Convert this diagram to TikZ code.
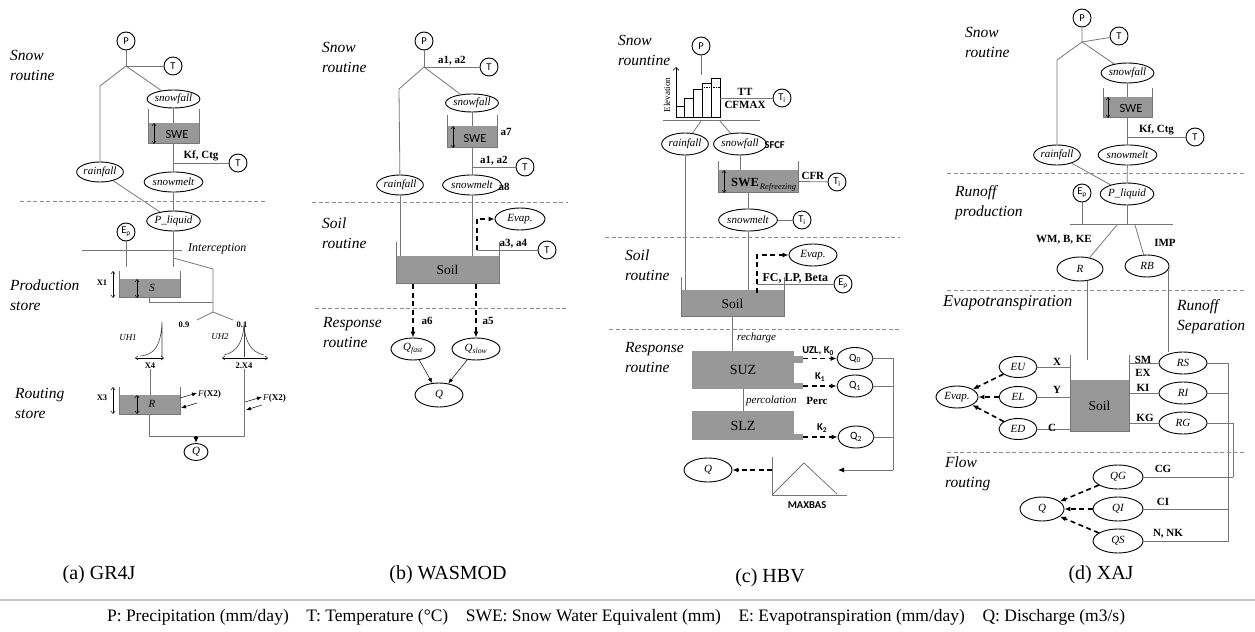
\documentclass[tikz,border=0pt]{standalone}
\usepackage{fontspec}
\setmainfont{Liberation Serif}
\setsansfont{Carlito}
\usetikzlibrary{shapes.geometric,arrows.meta}
\definecolor{tankgray}{RGB}{152,152,152}
\definecolor{linegray}{RGB}{118,118,118}
\begin{document}
\begin{tikzpicture}[x=1bp, y=-1bp,
  ln/.style={draw=linegray, line width=0.8bp},
  wall/.style={draw=linegray, line width=1bp},
  store/.style={fill=tankgray, inner sep=0pt, font=\fontsize{13.5bp}{13bp}\selectfont},
  var/.style={ellipse, draw, line width=0.9bp, inner sep=0pt, minimum width=46bp, minimum height=20bp, font=\itshape\fontsize{11bp}{11bp}\selectfont},
  inp/.style={circle, draw, line width=0.9bp, inner sep=0pt, minimum size=18bp, font=\sffamily\fontsize{10.5bp}{10bp}\selectfont},
  zone/.style={anchor=west, align=left, inner sep=0pt, font=\itshape\fontsize{15.5bp}{20bp}\selectfont},
  prm/.style={inner sep=1.5bp, font=\bfseries\fontsize{11bp}{11bp}\selectfont},
  minor/.style={inner sep=0pt, font=\bfseries\fontsize{8.5bp}{9bp}\selectfont},
  sprm/.style={inner sep=1.5bp, font=\sffamily\bfseries\fontsize{10.5bp}{11bp}\selectfont},
  note/.style={inner sep=0pt, font=\itshape\fontsize{11bp}{12bp}\selectfont},
  swetxt/.style={inner sep=0pt, font=\sffamily\fontsize{12.5bp}{12bp}\selectfont},
  sep/.style={draw=black!45, dash pattern=on 4bp off 2.5bp, line width=0.7bp},
  dbl/.style={line width=0.5bp, {Straight Barb[length=2.5bp,width=4bp]}-{Straight Barb[length=2.5bp,width=4bp]}},
  flux/.style={line width=1.6bp, dash pattern=on 5bp off 3.5bp, -{Latex[length=6bp,width=5bp]}},
  thinarr/.style={line width=0.5bp, -{Latex[length=5bp,width=4bp]}},
  arr/.style={-{Latex[length=6bp,width=5bp,color=black]}},
  panel/.style={inner sep=0pt, font=\fontsize{20bp}{20bp}\selectfont},
  keytext/.style={inner sep=0pt, font=\fontsize{17.5bp}{17.5bp}\selectfont}]
\useasboundingbox (0,0) rectangle (1255,632);

% (a) GR4J
\node[zone] (zA1) at (10,65) {Snow\\routine};
\node[zone] (zA2) at (10,295) {Production\\store};
\node[zone] (zA3) at (15,403) {Routing\\store};
\node[inp] (pA) at (126,41) {P};
\node[inp] (tA) at (173,66) {T};
\coordinate (jA) at (126,66);
\coordinate (bA) at (100,86);
\node[var] (rainA) at (100,172) {rainfall};
\node[var, minimum width=44bp, minimum height=18bp] (sfA) at (173.5,99) {snowfall};
\node[store, minimum width=51bp, minimum height=21bp] (sweA) at (173.5,133.5) {};
\node[swetxt] (sweAt) at (177,134) {SWE};
\node[var, minimum width=44bp] (smA) at (173.5,182) {snowmelt};
\node[inp] (tA2) at (238,163) {T};
\node[var] (plA) at (173.5,221) {P\_liquid};
\node[inp] (epA) at (126,232) {E\textsubscript{p}};
\draw[ln] (pA) -- (jA) -- (tA);
\draw[ln] (jA) -- (bA) -- (rainA);
\draw[ln] (jA) -- (sfA);
\draw[wall] (148,109) |- (199,144) -- (199,109);
\draw[ln] (sfA) -- (sweA);
\draw[dbl] (154,123) -- (154,144);
\draw[ln] (sweA) -- (smA);
\draw[ln] (sweA.south |- tA2) -- node[prm, above]{Kf, Ctg} (tA2);
\draw[ln] (rainA) -- (plA);
\draw[ln] (smA) -- (plA);
\draw[sep] (20,201) -- (265,201);

\coordinate (icA1) at (82,250);
\coordinate (icA2) at (182,250);
\draw[ln] (icA1) -- (icA2);
\node[note, anchor=west, font=\itshape\fontsize{12bp}{12bp}\selectfont] (icA) at (188,249) {Interception};
\coordinate (epAe) at (126,267);
\coordinate (plAe) at (173.5,267);
\draw[ln] (epA) -- (epAe);
\draw[ln] (plA) -- (plAe);
\node[store, minimum width=61bp, minimum height=19bp] (sA) at (149.5,288.5) {};
\node[note] (sAt) at (152,288) {S};
\draw[wall] (119,271) |- (180,298) -- (180,271);
\draw[dbl] (137,279) -- (137,298);
\draw[dbl] (113,271) -- (113,298);
\node[minor] (x1A) at (102,283) {X1};
\coordinate (brA) at (173.5,258);
\coordinate (kA) at (213,269);
\coordinate (jA2) at (213,312);
\draw[ln] (brA) -- (kA) -- (jA2);
\draw[ln] (sA.south) |- (kA |- 0,302);
\coordinate (uhA1) at (197,320);
\coordinate (uhA2) at (233,320);
\draw[ln] (uhA1) -- (jA2) -- (uhA2);
\node[minor] (f09) at (184,325) {0.9};
\node[minor] (f01) at (242,325) {0.1};

\draw[draw=black!75, line width=0.6bp] (140,356) .. controls (155,355) and (161,345) .. (162,322) -- (162,357);
\draw[dbl] (135,358) -- (164,358);
\node[note, font=\itshape\fontsize{9bp}{9bp}\selectfont] (uhA) at (128,338) {UH1};
\node[minor] (x4A) at (150,366) {X4};
\draw[draw=black!75, line width=0.6bp] (224,355) .. controls (238,352) and (243,340) .. (244,325) .. controls (245,340) and (250,352) .. (264,355);
\draw[draw=black!75, line width=0.6bp] (244,325) -- (244,357);
\draw[dbl] (222,358) -- (268,358);
\node[note, font=\itshape\fontsize{9bp}{9bp}\selectfont] (uhB) at (220,337) {UH2};
\node[minor] (x4B) at (244,366) {2.X4};

\node[store, minimum width=61bp, minimum height=19bp] (rA) at (149.5,404.5) {};
\node[note] (rAt) at (152,404) {R};
\draw[wall] (119,387) |- (180,414) -- (180,387);
\draw[dbl] (137,395) -- (137,414);
\draw[dbl] (113,387) -- (113,414);
\node[minor] (x3A) at (102,398) {X3};
\draw[ln] (x4A) -- (x4A |- rA.north);
\draw[thinarr] (180,398) -- (197,393);
\draw[thinarr] (197,403) -- (181,408);
\node[anchor=west, inner sep=0pt, font=\fontsize{9bp}{9bp}\selectfont] (fxA) at (198,394) {\textit{F}\textbf{(X2)}};
\draw[thinarr] (245,402) -- (262,397);
\draw[thinarr] (262,405) -- (246,410);
\node[anchor=west, inner sep=0pt, font=\fontsize{9bp}{9bp}\selectfont] (fxB) at (263,398) {\textit{F}\textbf{(X2)}};
\coordinate (oA1) at (149.5,436);
\coordinate (oA2) at (244,436);
\coordinate (oA) at (196,436);
\node[var, minimum width=24bp, minimum height=17bp] (qA) at (196,452) {Q};
\draw[ln] (rA.south) -- (oA1) -- (oA2) -- (x4B);
\draw[-{Latex[length=6bp,width=5bp]}, line width=1.5bp] (oA) -- (qA);
\node[panel] (capA) at (99,575) {(a) GR4J};

% (b) WASMOD
\node[zone] (zB1) at (322,57) {Snow\\routine};
\node[zone] (zB2) at (322,233) {Soil\\routine};
\node[zone] (zB3) at (323,333) {Response\\routine};
\node[inp] (pB) at (424,41) {P};
\node[inp] (tB) at (489,67) {T};
\coordinate (jB) at (424,67);
\coordinate (bB) at (399,89);
\node[var, minimum width=44bp] (rainB) at (400,185) {rainfall};
\node[var, minimum width=44bp, minimum height=18bp] (sfB) at (472,103) {snowfall};
\node[store, minimum width=50bp, minimum height=22bp] (sweB) at (472,137) {};
\node[swetxt] (sweBt) at (475,138) {SWE};
\node[prm, anchor=west] (a7B) at (499,132) {a7};
\node[var, minimum width=48bp] (smB) at (472,185) {snowmelt};
\node[prm, anchor=west] (a8B) at (497,187) {a8};
\node[inp] (tB2) at (525,167) {T};
\draw[ln] (pB) -- (jB) -- node[prm, above]{a1, a2} (tB);
\draw[ln] (jB) -- (bB) -- (rainB);
\draw[ln] (jB) -- (sfB);
\draw[wall] (447,115) |- (497,148) -- (497,115);
\draw[ln] (sfB) -- (sweB);
\draw[dbl] (453,126) -- (453,148);
\draw[ln] (sweB) -- (smB);
\draw[ln] (sweB.south |- tB2) -- node[prm, above]{a1, a2} (tB2);
\draw[sep] (312,202) -- (568,202);
\node[store, minimum width=103bp, minimum height=28bp] (soilB) at (447.5,270) {Soil};
\draw[wall] (396,242) |- (499,284) -- (499,242);
\draw[ln] (rainB) -- (rainB |- soilB.north);
\draw[ln] (smB) -- (smB |- soilB.north);
\node[var, minimum width=50bp, minimum height=22bp] (evB) at (520,219) {Evap.};
\coordinate (eB) at (477,250);
\node[inp] (tB3) at (547,250) {T};
\draw[flux] (eB) |- (evB);
\draw[ln] (eB) -- node[prm, above, pos=0.6]{a3, a4} (tB3);
\draw[sep] (315,308) -- (567,308);
\node[var, minimum width=44bp, minimum height=22bp] (qfB) at (413,349) {Q\textsubscript{fast}};
\node[var, minimum width=48bp, minimum height=22bp] (qsB) at (476,349) {Q\textsubscript{slow}};
\draw[flux] (soilB.south -| qfB) -- (qfB);
\draw[flux] (soilB.south -| qsB) -- (qsB);
\node[prm] (a6B) at (427,321) {a6};
\node[prm] (a5B) at (488,321) {a5};
\node[var, minimum width=48bp, minimum height=24bp] (qB) at (439,395) {Q};
\draw[thinarr] (qfB) -- (qB);
\draw[thinarr] (qsB) -- (qB);
\node[panel] (capB) at (448,575) {(b) WASMOD};

% (c) HBV
\node[zone] (zC1) at (618,50) {Snow\\rountine};
\node[zone] (zC2) at (625,265) {Soil\\routine};
\node[zone] (zC3) at (625,358) {Response\\routine};
\node[inp] (pC) at (701,46) {P};
\coordinate (pCe) at (701,75);
\draw[ln] (pC) -- (pCe);
\draw[-{Straight Barb[length=3bp]}, line width=0.6bp] (676,117) -- (676,67);
\foreach \i/\h in {0/106,1/98,2/89,3/83,4/78}
  \draw[line width=0.9bp] ({676+8.8*\i},117) rectangle ({684.8+8.8*\i},\h);
\draw[densely dotted, line width=0.7bp] (702.4,87) -- (720,87);
\node[rotate=90, inner sep=0pt, font=\fontsize{9bp}{9bp}\selectfont] (elev) at (667,95) {Elevation};
\draw[ln] (663,120) -- (760,120);
\node[inp] (tiC1) at (782,98) {T\textsubscript{i}};
\coordinate (ttC) at (720,98);
\draw[ln] (ttC) -- (tiC1);
\node[prm] (ttl) at (745,92) {TT};
\node[prm] (cfm) at (745,105) {CFMAX};
\coordinate (blC1) at (701,121);
\coordinate (blC2) at (720,121);
\node[var, minimum height=22bp] (rainC) at (685,144) {rainfall};
\node[var, minimum width=48bp, minimum height=22bp] (sfC) at (740,144) {snowfall};
\node[sprm, anchor=west] (sfcf) at (763,145) {SFCF};
\draw[ln] (blC1) -- (rainC);
\draw[ln] (blC2) -- (sfC);
\node[store, minimum width=80bp, minimum height=23bp] (sweC) at (758,181.5) {};
\draw[wall] (718,161) |- (798,193) -- (798,161);
\draw[ln] (sfC) -- (sfC |- sweC.north);
\draw[dbl] (724,170) -- (724,193);
\node[inner sep=0pt, font=\bfseries\fontsize{12.5bp}{12bp}\selectfont] (sweCt) at (745,182) {SWE};
\node[inner sep=0pt, font=\itshape\fontsize{8.5bp}{9bp}\selectfont] (refr) at (778,187) {Refreezing};
\node[inp] (tiC2) at (837,182) {T\textsubscript{i}};
\draw[ln] (sweC.east) -- node[prm, above]{CFR} (tiC2);
\node[var, minimum height=22bp] (smC) at (748,220) {snowmelt};
\node[inp] (tiC3) at (802,220) {T\textsubscript{i}};
\draw[ln] (sweC.south -| smC) -- (smC);
\draw[ln] (smC) -- (tiC3);
\draw[sep] (605,237) -- (900,237);
\node[store, minimum width=103bp, minimum height=27bp] (soilC) at (732.5,303.5) {Soil};
\draw[wall] (681,277) |- (784,317) -- (784,277);
\draw[ln] (rainC) -- (rainC |- soilC.north);
\draw[ln] (smC) -- (smC |- soilC.north);
\node[var, minimum width=48bp, minimum height=22bp] (evC) at (813,255) {Evap.};
\node[inp] (epC) at (843,284) {E\textsubscript{p}};
\coordinate (eC) at (757,293);
\coordinate (eC2) at (757,284);
\draw[flux] (eC) |- (evC);
\draw[ln] (eC2) -- node[prm, above, inner sep=0.5bp, font=\bfseries\fontsize{12bp}{12bp}\selectfont]{FC, LP, Beta} (epC);
\draw[sep] (609,329) -- (900,329);
\node[store, minimum width=102bp, minimum height=38bp, font=\fontsize{14bp}{14bp}\selectfont] (suzC) at (743,370) {SUZ};
\fill[tankgray] (794,356) rectangle (803,363);
\fill[tankgray] (794,383) rectangle (803,389);
\draw[ln] (soilC.south) -- (soilC.south |- suzC.north);
\node[note, anchor=west] (rech) at (737,338) {recharge};
\node[store, minimum width=102bp, minimum height=29bp, font=\fontsize{14bp}{14bp}\selectfont] (slzC) at (743,425.5) {SLZ};
\fill[tankgray] (794,434) rectangle (803,440);
\draw[ln] (suzC) -- (slzC);
\node[note, anchor=west] (perc) at (746,401) {percolation};
\node[prm] (percp) at (817,401) {Perc};
\node[var, minimum width=36bp, minimum height=22bp, font=\sffamily\fontsize{11bp}{11bp}\selectfont] (q0C) at (855,358.5) {Q\textsubscript{0}};
\node[var, minimum width=36bp, minimum height=22bp, font=\sffamily\fontsize{11bp}{11bp}\selectfont] (q1C) at (855,386) {Q\textsubscript{1}};
\node[var, minimum width=36bp, minimum height=22bp, font=\sffamily\fontsize{11bp}{11bp}\selectfont] (q2C) at (856,437) {Q\textsubscript{2}};
\coordinate (o0C) at (803,358.5);
\coordinate (o1C) at (803,386);
\coordinate (o2C) at (803,437);
\draw[flux] (o0C) -- (q0C);
\draw[flux] (o1C) -- (q1C);
\draw[flux] (o2C) -- (q2C);
\node[sprm] (uzl) at (818,351) {UZL, K\textsubscript{0}};
\node[sprm] (k1C) at (820,377) {K\textsubscript{1}};
\node[sprm] (k2C) at (822,428) {K\textsubscript{2}};
\coordinate (colC) at (893,470);
\coordinate (mxC) at (838,470);
\draw[ln] (q0C) -| (colC);
\draw[ln] (q1C) -- (q1C -| colC);
\draw[ln] (q2C) -- (q2C -| colC);
\draw[ln, arr] (colC) -- (mxC);
\coordinate (mxL) at (772,470);
\draw[ln] (772,457) -- (772,495) -- (847,495);
\draw[ln] (773,494) -- (804,463) -- (837,494);
\node[sprm] (mxb) at (807,505) {MAXBAS};
\node[var, minimum width=48bp, minimum height=24bp] (qC) at (708,470) {Q};
\draw[flux] (mxL) -- (qC);
\node[panel] (capC) at (770,578) {(c) HBV};

% (d) XAJ
\node[zone] (zD1) at (965,42) {Snow\\routine};
\node[zone] (zD2) at (955,203) {Runoff\\production};
\node[zone, font=\itshape\fontsize{16.5bp}{20bp}\selectfont] (zD3) at (943,303) {Evapotranspiration};
\node[zone] (zD4) at (1177,317) {Runoff\\Separation};
\node[zone] (zD5) at (945,474) {Flow\\routing};
\node[inp] (pD) at (1082,18) {P};
\node[inp] (tD) at (1119,36) {T};
\coordinate (jD) at (1082,42);
\coordinate (bD) at (1057,60);
\node[var] (rainD) at (1057,155) {rainfall};
\node[var, minimum width=44bp] (sfD) at (1127.5,73) {snowfall};
\node[store, minimum width=49bp, minimum height=21bp] (sweD) at (1127.5,107.5) {};
\node[swetxt] (sweDt) at (1131,108) {SWE};
\draw[wall] (1103,88) |- (1152,118) -- (1152,88);
\draw[dbl] (1108,97) -- (1108,118);
\node[var] (smD) at (1127.5,155) {snowmelt};
\node[inp] (tD2) at (1195,137) {T};
\draw[ln] (pD) -- (jD) -- (tD);
\draw[ln] (jD) -- (bD) -- (rainD);
\draw[ln] (jD) -- (sfD);
\draw[ln] (sfD) -- (sweD);
\draw[ln] (sweD) -- (smD);
\draw[ln] (sweD.south |- tD2) -- node[prm, above]{Kf, Ctg} (tD2);
\draw[sep] (947,173) -- (1245,173);
\node[var, minimum width=48bp, minimum height=22bp] (plD) at (1127,194) {P\_liquid};
\node[inp] (epD) at (1082,193) {E\textsubscript{p}};
\draw[ln] (rainD) -- (plD);
\draw[ln] (smD) -- (plD);
\coordinate (hD1) at (1070,224);
\coordinate (hD2) at (1173,224);
\draw[ln] (hD1) -- (hD2);
\draw[ln] (epD) -- (epD |- hD1);
\draw[ln] (plD) -- (plD |- hD1);
\coordinate (sD1) at (1117,225);
\coordinate (sD2) at (1135,225);
\node[var, minimum height=24bp] (rD) at (1080,269) {R};
\node[var, minimum width=44bp, minimum height=22bp] (rbD) at (1147,266) {RB};
\draw[ln] (sD1) -- (rD);
\draw[ln] (sD2) -- (rbD);
\node[prm] (wmD) at (1064,240) {WM, B, KE};
\node[prm] (impD) at (1165,243) {IMP};
\draw[sep] (947,290) -- (1245,290);
\node[store, minimum width=59bp, minimum height=51bp] (soilD) at (1099.5,405.5) {Soil};
\draw[wall] (1070,355) |- (1129,431) -- (1129,355);
\draw[ln] ([xshift=7bp]rD.south) -- ++(0,79);
\node[var, minimum width=48bp, minimum height=22bp] (rsD) at (1183,363) {RS};
\node[var, minimum width=48bp, minimum height=22bp] (riD) at (1183,393) {RI};
\node[var, minimum width=48bp, minimum height=22bp] (rgD) at (1183,423) {RG};
\draw[ln] (rbD.-10) -- (rbD.-10 |- rsD.north);
\draw[ln] (rsD.west -| soilD.east) -- (rsD);
\draw[ln] (riD.west -| soilD.east) -- (riD);
\draw[ln] (rgD.west -| soilD.east) -- (rgD);
\node[prm] (smL) at (1143,360) {SM};
\node[prm] (exL) at (1143,373) {EX};
\node[prm] (kiL) at (1143,388) {KI};
\node[prm] (kgL) at (1145,418) {KG};
\node[var, minimum width=38bp, minimum height=21bp] (euD) at (1018,367) {EU};
\node[var, minimum width=38bp, minimum height=21bp] (elD) at (1018,397) {EL};
\node[var, minimum width=38bp, minimum height=21bp] (edD) at (1018,429) {ED};
\node[var, minimum width=42bp, minimum height=22bp] (evD) at (957,397) {Evap.};
\draw[ln] (euD) -- (euD -| soilD.west);
\draw[ln] (elD) -- (elD -| soilD.west);
\draw[ln] (edD) -- (edD -| soilD.west);
\node[prm] (xL) at (1057,362) {X};
\node[prm] (yL) at (1057,390) {Y};
\node[prm] (cL) at (1052,428) {C};
\draw[flux] (euD) -- (evD);
\draw[flux] (elD) -- (evD);
\draw[flux] (edD) -- (evD);
\coordinate (cD1) at (1228,363);
\coordinate (cD2) at (1228,542);
\coordinate (cD3) at (1233,477);
\draw[ln] (rsD) -- (cD1) -- (cD2);
\draw[ln] (riD) -- (riD -| cD1);
\draw[ln] (rgD) -| (cD3);
\draw[sep] (947,452) -- (1245,452);
\node[var, minimum width=50bp, minimum height=24bp] (qgD) at (1118,477) {QG};
\node[var, minimum width=50bp, minimum height=24bp] (qiD) at (1118,509) {QI};
\node[var, minimum width=50bp, minimum height=24bp] (qsD) at (1118,541) {QS};
\node[var, minimum width=44bp, minimum height=24bp] (qD) at (1042,509) {Q};
\draw[ln] (qgD) -- (qgD -| cD3);
\draw[ln] (qiD) -- (qiD -| cD1);
\draw[ln] (qsD) -- (qsD -| cD1);
\node[prm] (cgL) at (1163,469) {CG};
\node[prm] (ciL) at (1163,502) {CI};
\node[prm] (nnkL) at (1168,534) {N, NK};
\draw[flux] (qgD) -- (qD);
\draw[flux] (qiD) -- (qD);
\draw[flux] (qsD) -- (qD);
\node[panel] (capD) at (1101,575) {(d) XAJ};

% legend
\draw[draw=black!22, line width=1.5bp] (0,600) -- (1255,600);
\node[keytext] (key) at (616,617) {P: Precipitation (mm/day)\hspace{1em}T: Temperature (°C)\hspace{1em}SWE: Snow Water Equivalent (mm)\hspace{1em}E: Evapotranspiration (mm/day)\hspace{1em}Q: Discharge (m3/s)};
\end{tikzpicture}
\end{document}
